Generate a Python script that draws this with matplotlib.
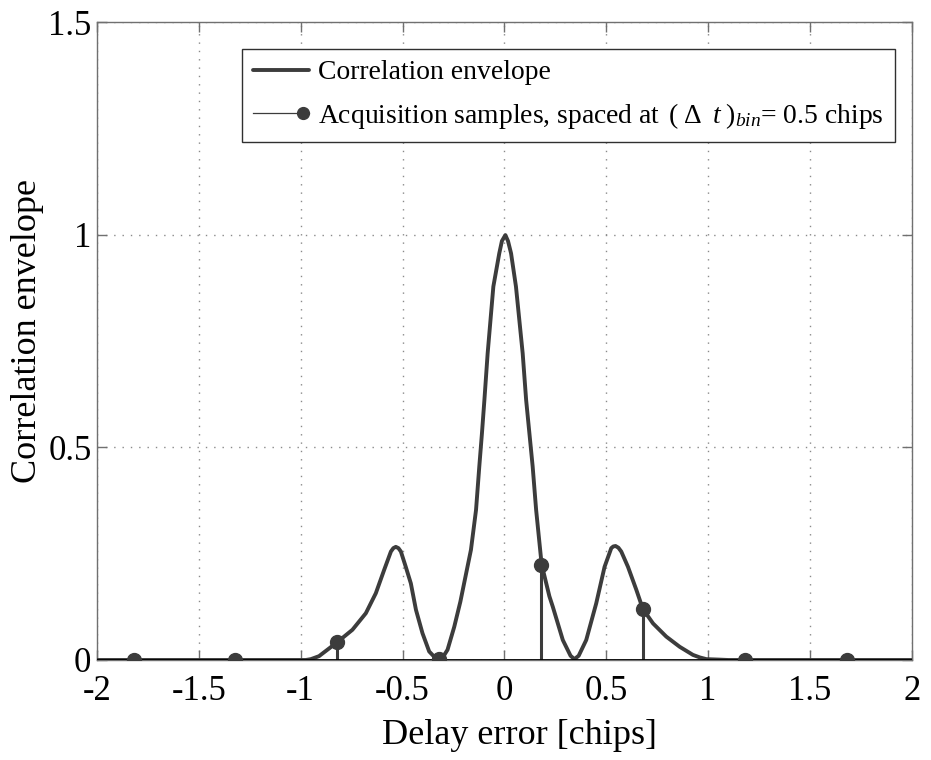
import matplotlib
matplotlib.use("Agg")
import matplotlib.pyplot as plt
from matplotlib.lines import Line2D
from matplotlib.legend_handler import HandlerBase

# =========================
# 数据
# =========================
delay_chips = [-2.0, -0.975, -0.95, -0.91, -0.82, -0.746, -0.68, -0.631, -0.59, -0.557,
               -0.545, -0.533, -0.520, -0.508, -0.484, -0.459, -0.434, -0.402, -0.369, -0.345,
               -0.32, -0.30, -0.279, -0.246, -0.216, -0.164, -0.139, -0.123, -0.110, -0.098,
               -0.082, -0.054, -0.025, -0.012, 0.005, 0.018, 0.033, 0.057, 0.090, 0.107,
               0.123, 0.139, 0.156, 0.183, 0.221, 0.238, 0.287, 0.325, 0.344, 0.365,
               0.402, 0.451, 0.492, 0.525, 0.535, 0.546, 0.560, 0.574, 0.607, 0.648,
               0.680, 0.730, 0.795, 0.861, 0.926, 0.960, 0.992, 1.05, 1.10, 2.0]
envelope = [0.0, 0.0, 0.002, 0.009, 0.042, 0.071, 0.110, 0.157, 0.212, 0.255,
            0.263, 0.266, 0.263, 0.255, 0.219, 0.180, 0.118, 0.063, 0.020, 0.008,
            0.002, 0.008, 0.024, 0.078, 0.137, 0.259, 0.353, 0.455, 0.533, 0.611,
            0.721, 0.878, 0.956, 0.985, 0.999, 0.985, 0.956, 0.878, 0.721, 0.611,
            0.533, 0.455, 0.353, 0.225, 0.150, 0.125, 0.047, 0.010, 0.002, 0.010,
            0.047, 0.133, 0.219, 0.263, 0.267, 0.268, 0.264, 0.255, 0.219, 0.165,
            0.120, 0.086, 0.055, 0.031, 0.012, 0.006, 0.002, 0.001, 0.0, 0.0]

sample_delay = [-1.82, -1.32, -0.82, -0.32, 0.18, 0.68, 1.18, 1.68]
sample_value = [0.0, 0.0, 0.042, 0.003, 0.223, 0.120, 0.0, 0.0]

x_ticks = [-2, -1.5, -1, -0.5, 0, 0.5, 1, 1.5, 2]
x_tick_labels = ["-2", "-1.5", "-1", "-0.5", "0", "0.5", "1", "1.5", "2"]
y_ticks = [0, 0.5, 1, 1.5]
y_tick_labels = ["0", "0.5", "1", "1.5"]

# =========================
# 字体
# =========================
plt.rcParams["font.family"] = ["Liberation Serif", "DejaVu Serif"]
plt.rcParams["mathtext.fontset"] = "custom"
plt.rcParams["mathtext.rm"] = "Liberation Serif"
plt.rcParams["mathtext.it"] = "Liberation Serif:italic"

LINE_C = "#3c3c3c"
AX_C = "#707070"


class StemLegend(HandlerBase):
    # 细线 + 右端圆点
    def create_artists(self, legend, orig_handle, xdescent, ydescent,
                       width, height, fontsize, trans):
        y = (height - ydescent) / 2
        stem = Line2D([-xdescent, width - xdescent], [y, y], color=LINE_C,
                      lw=0.9, transform=trans)
        dot = Line2D([width - xdescent - 4], [y], marker="o", ms=8.5,
                     color=LINE_C, ls="none", transform=trans)
        return [stem, dot]


fig = plt.figure(figsize=(9.31, 7.6), dpi=100)
ax = fig.add_axes([97 / 931, 100 / 760, 814.7 / 931, 638 / 760])

env_line, = ax.plot(delay_chips, envelope, color=LINE_C, lw=2.8, zorder=3,
                    solid_joinstyle="round", solid_capstyle="round")

ml, sl, bl = ax.stem(sample_delay, sample_value, basefmt=" ")
plt.setp(sl, color=LINE_C, lw=2.2, zorder=4)
plt.setp(ml, color=LINE_C, markersize=10, zorder=5)

ax.axhline(0, color="black", lw=2.0, zorder=4)

ax.set_xlim(-2, 2)
ax.set_ylim(0, 1.5)
ax.set_xticks(x_ticks)
ax.set_xticklabels(x_tick_labels)
ax.set_yticks(y_ticks)
ax.set_yticklabels(y_tick_labels)

ax.tick_params(direction="in", length=7, width=1, color=AX_C,
               top=True, right=True, labelsize=25)
ax.tick_params(axis="x", pad=11)
ax.tick_params(axis="y", pad=4)
for s in ax.spines.values():
    s.set_color(AX_C)
    s.set_linewidth(1.0)

ax.grid(True, linestyle=(0, (1, 5)), color="#8a8a8a", lw=1.0)
ax.set_axisbelow(True)

ax.set_xlabel("Delay error [chips]", fontsize=26)
ax.set_ylabel("Correlation envelope", fontsize=26)
ax.xaxis.set_label_coords(0.518, -0.093)
ax.yaxis.set_label_coords(-0.065, 0.516)

stem_handle = Line2D([], [])
leg = ax.legend(
    [env_line, stem_handle],
    ["Correlation envelope",
     r"Acquisition samples, spaced at $\,(\;\Delta\;\;t\;)_{bin}$= 0.5 chips"],
    handler_map={stem_handle: StemLegend()},
    loc="upper right",
    bbox_to_anchor=(0.9795, 0.9577),
    borderaxespad=0,
    fontsize=19.9,
    frameon=True,
    fancybox=False,
    framealpha=1,
    edgecolor="#303030",
    handlelength=2.0,
    handletextpad=0.35,
    borderpad=0.4,
    labelspacing=0.55,
)
leg.get_frame().set_linewidth(1.0)

fig.savefig("out.png", dpi=100, facecolor="white")
